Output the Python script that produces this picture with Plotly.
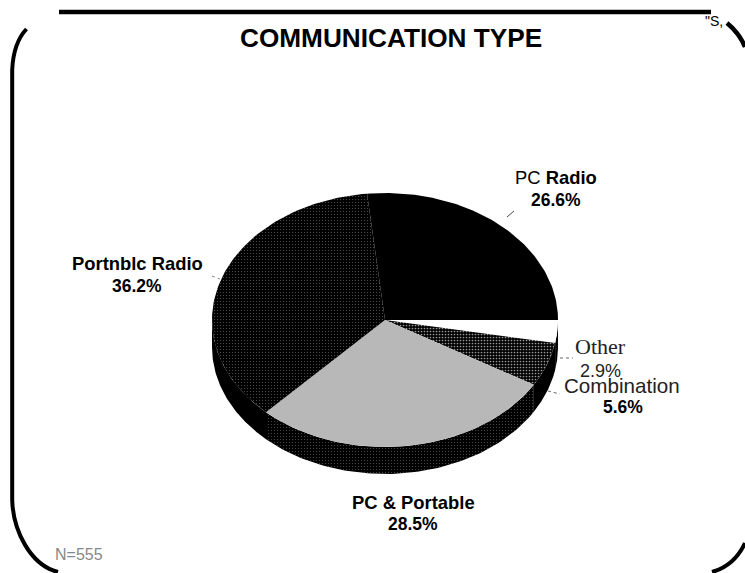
import numpy as np
import plotly.graph_objects as go

# ---- data ----
categories = ["Other", "Combination", "PC & Portable", "Portnblc Radio", "PC Radio"]
shares = [2.9, 5.6, 28.5, 36.2, 26.6]
value_labels = ["2.9%", "5.6%", "28.5%", "36.2%", "26.6%"]
title_text = "COMMUNICATION TYPE"
note_text = "N=555"

# ---- style and layout ----
W, H = 745, 573
CX, CY, RX, RY, DEPTH = 385, 320, 173, 127, 27
top_styles = [
    dict(bg="#ffffff", fg="#ffffff", size=4, solidity=0.1),
    dict(bg="#000000", fg="#999999", size=3, solidity=0.25),
    dict(bg="#ebebeb", fg="#666666", size=2, solidity=0.4),
    dict(bg="#000000", fg="#555555", size=3, solidity=0.12),
    dict(bg="#000000", fg="#000000", size=4, solidity=0.1),
]
side_styles = [
    dict(bg="#000000", fg="#000000", size=4, solidity=0.1),
    dict(bg="#000000", fg="#000000", size=4, solidity=0.1),
    dict(bg="#000000", fg="#555555", size=3, solidity=0.1),
    dict(bg="#000000", fg="#000000", size=4, solidity=0.1),
    dict(bg="#000000", fg="#000000", size=4, solidity=0.1),
]

def pattern(s):
    return dict(shape=".", bgcolor=s["bg"], fgcolor=s["fg"], size=s["size"],
                solidity=s["solidity"], fillmode="replace")

def arc(a0, a1):
    t = np.radians(np.linspace(a0, a1, 80))
    return CX + RX * np.cos(t), CY + RY * np.sin(t)

fig = go.Figure()
edges = np.concatenate([[0], np.cumsum(shares)]) / sum(shares) * 360

# side wall, lower half only
for i, name in enumerate(categories):
    a0, a1 = edges[i], min(edges[i + 1], 180)
    if a0 >= 180:
        continue
    x, y = arc(a0, a1)
    fig.add_trace(go.Scatter(
        x=np.concatenate([x, x[::-1]]), y=np.concatenate([y, y[::-1] + DEPTH]),
        mode="lines", line=dict(width=0), fill="toself",
        fillpattern=pattern(side_styles[i]), hoverinfo="skip", showlegend=False))

# top face
for i, name in enumerate(categories):
    x, y = arc(edges[i], edges[i + 1])
    fig.add_trace(go.Scatter(
        x=np.concatenate([[CX], x, [CX]]), y=np.concatenate([[CY], y, [CY]]),
        mode="lines", line=dict(width=0), fill="toself", name=name,
        fillpattern=pattern(top_styles[i]), showlegend=False,
        text=f"{name} {value_labels[i]}", hoverinfo="text"))

# leader lines
leaders = [
    ((507, 217), (514, 211), "solid", "#444444"),
    ((212, 276), (220, 279), "dot", "#888888"),
    ((560, 358), (573, 358), "dot", "#666666"),
    ((548, 391), (560, 394), "dot", "#666666"),
]
shapes = [dict(type="line", x0=a[0], y0=a[1], x1=b[0], y1=b[1],
               line=dict(color=c, width=1, dash=d)) for a, b, d, c in leaders]

# scanned page frame
frame = [
    "M 59 12 L 711 12",
    "M 26.5 29 C 18 38 13 52 12.2 70 L 12.2 500 C 13 530 30 565 58 572",
    "M 727 23 C 733 28 741 37 745 47",
    "M 712 572 C 726 568 738 558 745 543",
]
widths = [4.5, 4, 4.5, 4]
for p, w in zip(frame, widths):
    shapes.append(dict(type="path", path=p, line=dict(color="#000000", width=w)))

SANS = "Liberation Sans, Arial, sans-serif"
SERIF = "Liberation Serif, Times New Roman, serif"

def label(x, y, text, size=18.4, family=SANS, color="#000000"):
    return dict(x=x, y=y, text=text, showarrow=False, xanchor="center", yanchor="middle",
                font=dict(size=size, family=family, color=color))

annotations = [
    label(390.5, 38, f"<b>{title_text}</b>", size=26.2),
    label(556, 177, "PC <b>Radio</b>"),
    label(556, 200, f"<b>{value_labels[4]}</b>", size=17.5),
    label(137, 263, f"<b>{categories[3]}</b>"),
    label(137, 286, f"<b>{value_labels[3]}</b>", size=17.5),
    label(600, 346, categories[0], size=22, family=SERIF, color="#222222"),
    label(600, 371, value_labels[0], size=18, color="#222222"),
    label(622, 385, categories[1], size=20.6, color="#222222"),
    label(623, 407, f"<b>{value_labels[1]}</b>", size=17.5),
    label(413, 502, f"<b>{categories[2]}</b>"),
    label(413, 524, f"<b>{value_labels[2]}</b>", size=17.5),
    label(79, 554, note_text, size=16, color="#888888"),
    label(714, 21, "\"S,", size=14),
]

fig.update_layout(
    width=W, height=H, autosize=False,
    margin=dict(l=0, r=0, t=0, b=0),
    paper_bgcolor="#ffffff", plot_bgcolor="#ffffff",
    xaxis=dict(range=[0, W], visible=False, fixedrange=True),
    yaxis=dict(range=[H, 0], visible=False, fixedrange=True),
    shapes=shapes, annotations=annotations, showlegend=False,
)
fig.write_html("out.html", config=dict(displayModeBar=False),
               post_script="document.body.style.margin='0';document.body.style.overflow='hidden';")
